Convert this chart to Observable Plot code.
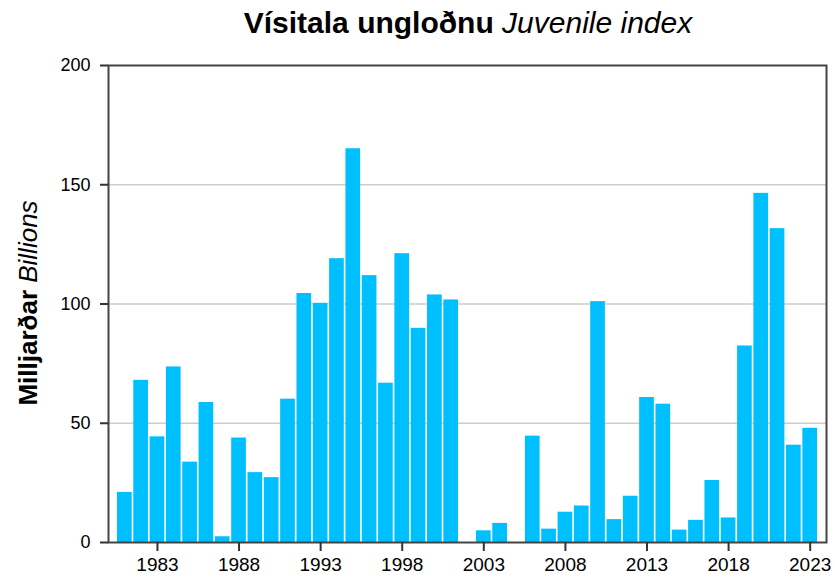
<!DOCTYPE html>
<html><head><meta charset="utf-8">
<script src="https://cdn.jsdelivr.net/npm/d3@7"></script>
<script src="https://cdn.jsdelivr.net/npm/@observablehq/plot@0.6"></script>
<style>body{margin:0;background:#fff} svg{font-family:"Liberation Sans",Arial,sans-serif}</style>
</head><body><div id="chart"></div>
<script>
const years = [1981,1982,1983,1984,1985,1986,1987,1988,1989,1990,1991,1992,1993,1994,1995,1996,1997,1998,1999,2000,2001,2002,2003,2004,2005,2006,2007,2008,2009,2010,2011,2012,2013,2014,2015,2016,2017,2018,2019,2020,2021,2022,2023];
const values = [21.0,68.0,44.3,73.6,33.7,58.7,2.4,43.8,29.3,27.2,60.1,104.4,100.3,119.0,165.1,111.9,66.8,121.1,89.8,103.8,101.7,0,4.9,8.0,0,44.6,5.6,12.7,15.3,101.0,9.6,19.4,60.8,58.0,5.2,9.3,26.0,10.3,82.4,146.4,131.6,40.8,47.9];
const xTicks = [1983,1988,1993,1998,2003,2008,2013,2018,2023];
const yTicks = [0,50,100,150,200];
const gridTicks = [50,100,150];
const titleMain = "Vísitala ungloðnu";
const titleSub = " Juvenile index";
const yLabelMain = "Milljarðar";
const yLabelSub = " Billions";

const data = years.map((y, i) => ({year: y, value: values[i]}));

const chart = Plot.plot({
  width: 835, height: 577,
  marginLeft: 108, marginRight: 9, marginTop: 65, marginBottom: 35,
  style: {fontFamily: "Liberation Sans, Arial, sans-serif", fontSize: "18px", background: "white", color: "#000"},
  x: {type: "band", domain: years, paddingInner: 0.1, paddingOuter: 0.55, round: false, label: null},
  y: {domain: [0, 200], label: null},
  marks: [
    Plot.gridY(gridTicks, {stroke: "#cccccc", strokeOpacity: 1, strokeWidth: 1.5}),
    Plot.barY(data, {x: "year", y: "value", fill: "#00bfff"}),
    Plot.frame({stroke: "#444", strokeWidth: 2}),
    Plot.axisY(yTicks, {tickSize: 8, tickPadding: 10, stroke: "#333", strokeWidth: 2, fontSize: 18, tickFormat: d => String(d), label: null}),
    Plot.axisX(xTicks, {tickSize: 9, tickPadding: 6, stroke: "#333", strokeWidth: 2, fontSize: 19, tickFormat: d => String(d), label: null})
  ]
});
document.getElementById("chart").appendChild(chart);

const svg = d3.select(chart);
const t = svg.append("text")
  .attr("x", 468).attr("y", 33)
  .attr("text-anchor", "middle")
  .attr("font-size", 30)
  .attr("fill", "#000");
t.append("tspan").attr("font-weight", "bold").text(titleMain);
t.append("tspan").attr("font-style", "italic").text(titleSub);

const yl = svg.append("text")
  .attr("transform", "translate(37,303) rotate(-90)")
  .attr("text-anchor", "middle")
  .attr("font-size", 26)
  .attr("fill", "#000");
yl.append("tspan").attr("font-weight", "bold").text(yLabelMain);
yl.append("tspan").attr("font-style", "italic").text(yLabelSub);
</script>
</body></html>
